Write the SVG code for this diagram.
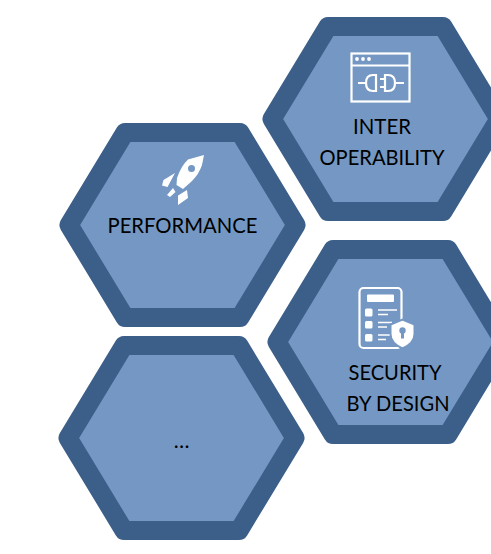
<svg xmlns="http://www.w3.org/2000/svg" width="491" height="554" viewBox="0 0 491 554">
<style>
.hex{fill:#7498c3;stroke:#3c5f8a;stroke-width:19;stroke-linejoin:round}
text{font-family:Lato,"Liberation Sans",sans-serif;font-size:21px;fill:#000;text-anchor:middle}
.ic{fill:none;stroke:#fff;stroke-width:2.2}
.w{fill:#fff;stroke:none}
</style>
<defs>
<polygon id="h" points="-113.5,0 -57.5,-92.5 57.5,-92.5 113.5,0 57.5,92.5 -57.5,92.5"/>
</defs>
<rect width="491" height="554" fill="#fff"/>
<g id="connectors"/>
<g id="interoperability">
<use href="#h" class="hex" x="385.5" y="119"/>
<rect class="ic" x="351.5" y="53.5" width="58" height="48"/>
<path class="ic" d="M351.5 65.500h58"/>
<circle class="w" cx="357" cy="59" r="1.900"/><circle class="w" cx="363" cy="59" r="1.900"/><circle class="w" cx="369" cy="59" r="1.900"/>
<path class="ic" d="M358 83h8M376 75h-3q-7 0-7 8t7 8h3zM385 75h3q7 0 7 8t-7 8h-3zM395 83h9M385 79h-5M385 87h-5"/>
<text x="382" y="134" textLength="58" lengthAdjust="spacingAndGlyphs">INTER</text>
<text x="382" y="165" textLength="125" lengthAdjust="spacingAndGlyphs">OPERABILITY</text>
</g>
<g id="performance">
<use href="#h" class="hex" x="182.500" y="225"/>
<path class="w" d="M204 155L188 159.500Q181 166 177 178L176.500 185L183 189L192 181Q199 174 202 165Z"/>
<circle cx="191.500" cy="168.500" r="3.500" fill="#7498c3"/>
<path class="w" d="M175 173L163.500 180L162 185.500L167.500 187ZM173 188L167 195L170 197L175.500 192ZM187 190L178 195.500L178 205L188 198Z"/>
<text x="182.500" y="233" textLength="150" lengthAdjust="spacingAndGlyphs">PERFORMANCE</text>
</g>
<g id="security">
<use href="#h" class="hex" x="390.500" y="342"/>
<rect class="ic" x="359.500" y="288" width="42" height="60" rx="4"/>
<rect class="w" x="367" y="294.500" width="27" height="7.500" rx="1"/>
<rect class="w" x="365" y="308.500" width="7.500" height="8" rx="1.500"/><rect class="w" x="365" y="321" width="7.500" height="7.500" rx="1.500"/><rect class="w" x="365" y="334" width="7.500" height="7.500" rx="1.500"/>
<path class="ic" style="stroke-width:1.700" d="M378 310h19M378 314.500h10M378 322.500h14M378 327h9M378 335h12M378 339.500h8"/>
<path d="M402.500 319.500L414.500 324.500V334Q414.500 343 402.500 348.500Q390.500 343 390.500 334V324.500Z" fill="#fff" stroke="#7498c3" stroke-width="2"/>
<circle cx="402.500" cy="330.500" r="3.200" fill="#7498c3"/><rect x="401" y="331" width="3" height="7.500" fill="#7498c3"/>
<text x="395" y="380" textLength="93" lengthAdjust="spacingAndGlyphs">SECURITY</text>
<text x="398" y="411" textLength="103" lengthAdjust="spacingAndGlyphs">BY DESIGN</text>
</g>
<g id="more">
<use href="#h" class="hex" x="181.500" y="438"/>
<text x="181.500" y="448">…</text>
</g>
</svg>
